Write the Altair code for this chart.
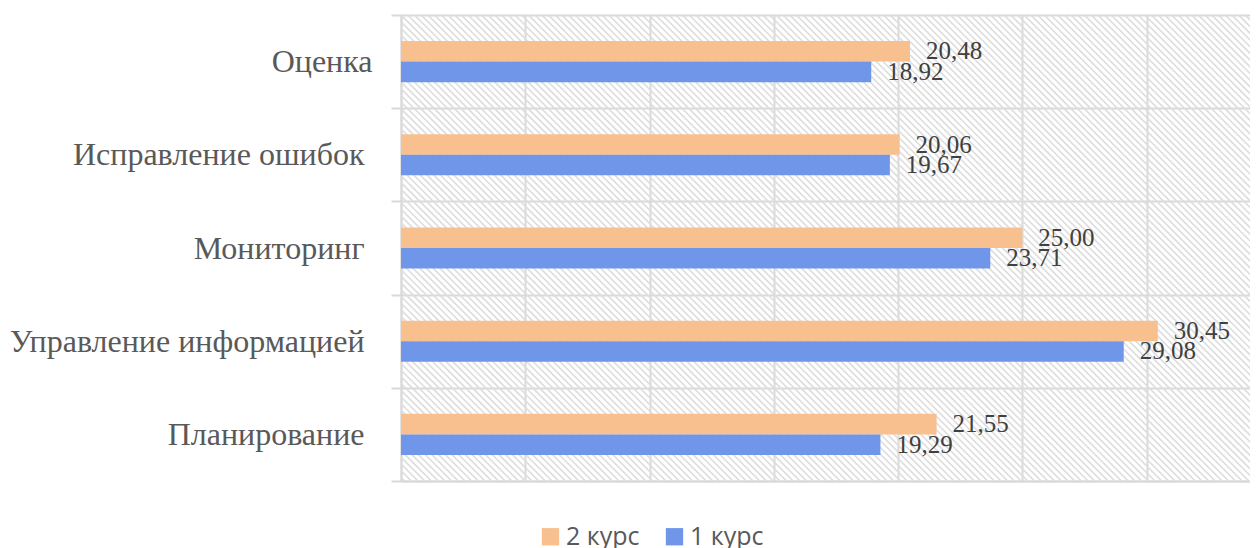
import altair as alt
import pandas as pd

categories = ["Оценка", "Исправление ошибок", "Мониторинг",
              "Управление информацией", "Планирование"]
series = ["2 курс", "1 курс"]
values_2 = [20.48, 20.06, 25.00, 30.45, 21.55]
values_1 = [18.92, 19.67, 23.71, 29.08, 19.29]
x_ticks = [0, 5, 10, 15, 20, 25, 30]
colors = ["#F8BF8F", "#7096EA"]

rows = []
for c, a, b in zip(categories, values_2, values_1):
    rows.append({"cat": c, "series": "2 курс", "value": a})
    rows.append({"cat": c, "series": "1 курс", "value": b})
df = pd.DataFrame(rows)

W, H = 849, 466
XMAX = 34.16
GRID = "#d9d9d9"

x_scale = alt.Scale(domain=[0, XMAX], nice=False, zero=True)
y_scale = alt.Scale(domain=categories, paddingInner=0, paddingOuter=0)
# two empty spacer slots around the pair of bars inside each category band
off_scale = alt.Scale(domain=["_a"] + series + ["_b"], paddingInner=0, paddingOuter=0.27)
color_scale = alt.Scale(domain=series, range=colors)

# decorative diagonal hatch of the plot background
hatch = alt.Chart(alt.sequence(-72, 132, as_="i")).transform_calculate(
    x0="datum.i*6.7", x1="datum.i*6.7+466", yt="466", yb="0"
).mark_rule(stroke="#dedede", strokeWidth=1.7, clip=True).encode(
    x=alt.X("x0:Q", scale=alt.Scale(domain=[0, W], nice=False, zero=False), axis=None),
    x2="x1:Q",
    y=alt.Y("yt:Q", scale=alt.Scale(domain=[0, H], nice=False, zero=False), axis=None),
    y2="yb:Q",
)

base = alt.Chart(df)

bars = base.mark_bar().encode(
    x=alt.X("value:Q", scale=x_scale,
            axis=alt.Axis(values=x_ticks, labels=False, ticks=False, domain=True,
                          domainColor=GRID, domainWidth=2,
                          grid=True, gridColor=GRID, gridWidth=2, title=None)),
    y=alt.Y("cat:N", scale=y_scale, sort=categories,
            axis=alt.Axis(title=None, labelFont="Liberation Serif", labelFontSize=32,
                          labelColor="#595959", labelLimit=600,
                          labelPadding={"condition": {"test": "datum.value === 'Оценка'",
                                                      "value": 19},
                                        "value": 27},
                          tickBand="extent", tickSize=10, tickColor=GRID, tickWidth=2,
                          domainColor=GRID, domainWidth=2,
                          grid=True, gridColor=GRID, gridWidth=2)),
    yOffset=alt.YOffset("series:N", scale=off_scale),
    color=alt.Color("series:N", scale=color_scale, sort=series,
                    legend=alt.Legend(title=None, orient="none", legendX=137, legendY=509,
                                      direction="horizontal", symbolType="square",
                                      symbolSize=300, symbolStrokeWidth=0,
                                      labelFont="Open Sans", labelFontSize=25,
                                      labelColor="#595959", labelOffset=3,
                                      columnPadding=22)),
)

labels = base.transform_calculate(
    lab="replace(format(datum.value, '.2f'), '.', ',')"
).mark_text(align="left", baseline="middle", dx=16, font="Liberation Serif",
            fontSize=25, color="#404040").encode(
    x=alt.X("value:Q", scale=x_scale),
    y=alt.Y("cat:N", scale=y_scale, sort=categories),
    yOffset=alt.YOffset("series:N", scale=off_scale),
    text="lab:N",
)

chart = alt.layer(hatch, alt.layer(bars, labels)).resolve_scale(
    x="independent", y="independent"
).properties(
    width=W, height=H,
    autosize=alt.AutoSizeParams(type="none"),
    padding={"left": 393, "top": 7, "right": 0, "bottom": 70},
    background="white",
).configure_view(stroke=None)

chart.save("out.html", embed_options={"renderer": "svg", "actions": False})
